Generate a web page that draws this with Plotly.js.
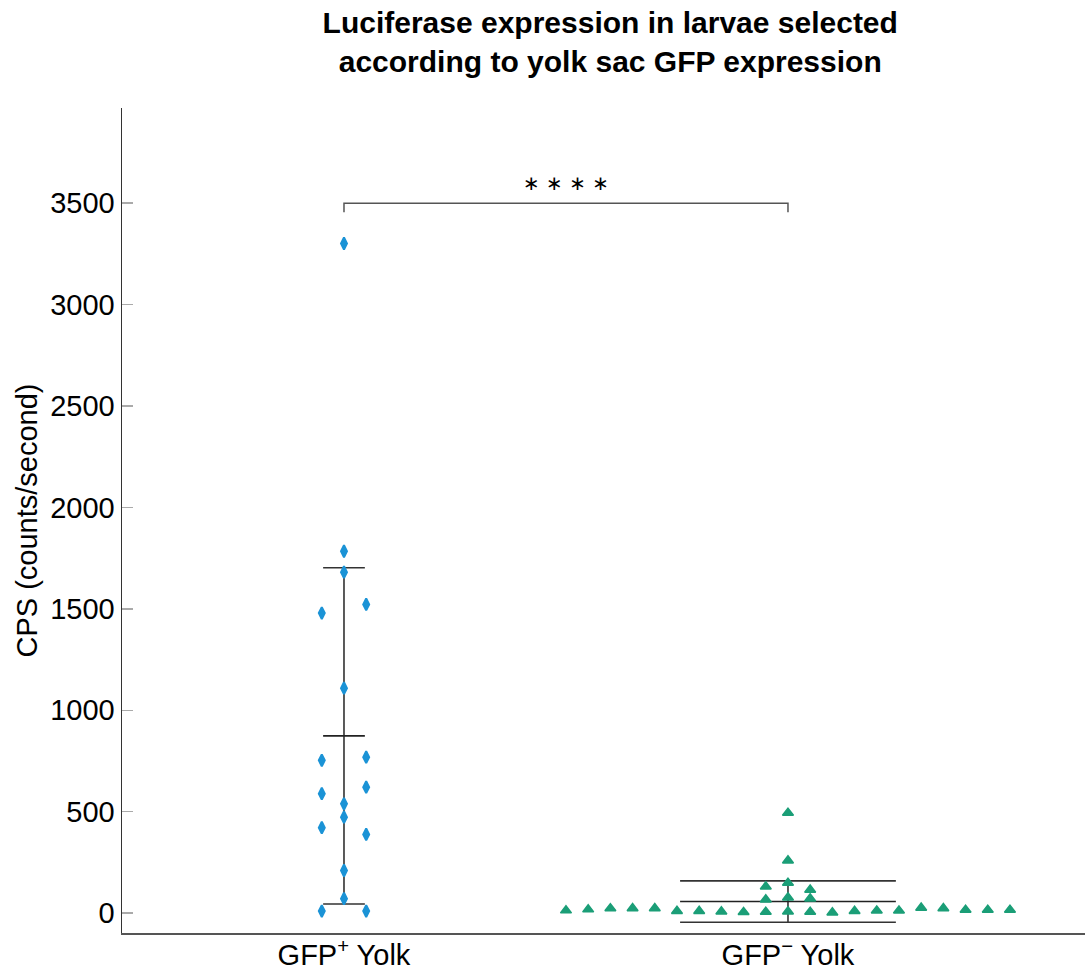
<!DOCTYPE html>
<html>
<head>
<meta charset="utf-8">
<script src="https://cdn.plot.ly/plotly-3.0.1.min.js"></script>
<style>
  html, body { margin: 0; padding: 0; background: #ffffff; }
  #chart { width: 1085px; height: 971px; }
</style>
</head>
<body>
<div id="chart"></div>
<script>
// Group labels on the x axis
const groupLabels = ['GFP<sup>+</sup> Yolk', 'GFP<sup>\u2212</sup> Yolk'];

// Luciferase readings (CPS) for each larva, in recording order
const gfpPosYolk = [3301, 1784, 1681, 1479, 1522, 1109, 753, 769, 589, 621, 539, 473, 421, 388, 210, 71, 10, 10];
const gfpNegYolk = [13, 18, 23, 24, 24, 10, 10, 8, 5, 6, 8, 6, 3, 10, 12, 12, 26, 24, 16, 16, 16,
                    67, 77, 72, 131, 149, 115, 259, 494];

// Significance marker between the groups
const significanceText = '\u2217 \u2217 \u2217 \u2217';

const FONT = 'Liberation Sans, Arial, Helvetica, sans-serif';
const BLUE = '#1b93d6';
const GREEN = '#1b9e77';

// Layout geometry
const W = 1085, H = 971;
const M = { l: 122, r: 0, t: 108, b: 38 };
const xRange = [0.5, 2.669];
const yRange = [-98, 3969];
const pxPerX = (W - M.l - M.r) / (xRange[1] - xRange[0]);

function mean(a) { return a.reduce((s, v) => s + v, 0) / a.length; }
function sd(a) {
  const m = mean(a);
  return Math.sqrt(a.reduce((s, v) => s + (v - m) * (v - m), 0) / (a.length - 1));
}

// Column scatter: values are grouped into bands of similar height; within a band
// points are spread side by side (odd counts centred, even counts leave the centre free).
function swarmOffsets(values, band, step) {
  const order = values.map((v, i) => i).sort((a, b) => values[a] - values[b] || a - b);
  const bins = [];
  let cur = [], start = 0;
  order.forEach(i => {
    if (cur.length && values[i] - start >= band) { bins.push(cur); cur = []; }
    if (!cur.length) start = values[i];
    cur.push(i);
  });
  if (cur.length) bins.push(cur);
  const off = new Array(values.length).fill(0);
  bins.forEach(b => {
    b.sort((a, c) => a - c);
    const n = b.length, slots = [];
    if (n % 2) { for (let k = -(n - 1) / 2; k <= (n - 1) / 2; k++) slots.push(k); }
    else { for (let k = -n / 2; k <= n / 2; k++) if (k !== 0) slots.push(k); }
    b.forEach((idx, j) => { off[idx] = slots[j] * step; });
  });
  return off;
}

const groups = [
  { pos: 1, values: gfpPosYolk, color: BLUE, symbol: 'diamond-tall', size: 8.5, lw: 2, capHalf: 0.047 },
  { pos: 2, values: gfpNegYolk, color: GREEN, symbol: 'triangle-up', size: 9.5, lw: 1.5, capHalf: 0.243 }
];

const traces = [];
groups.forEach(g => {
  const m = mean(g.values), s = sd(g.values);
  // mean ± SD whiskers
  traces.push({
    type: 'scatter', mode: 'markers', x: [g.pos], y: [m],
    marker: { size: 1, opacity: 0 },
    error_y: { type: 'data', array: [s], visible: true, color: '#333333', thickness: 1.6,
               width: g.capHalf * pxPerX },
    hoverinfo: 'skip', showlegend: false
  });
  // mean line
  traces.push({
    type: 'scatter', mode: 'lines', x: [g.pos - g.capHalf, g.pos + g.capHalf], y: [m, m],
    line: { color: '#222222', width: 1.6 }, hoverinfo: 'skip', showlegend: false
  });
});
groups.forEach(g => {
  const off = swarmOffsets(g.values, 45, 0.05);
  traces.push({
    type: 'scatter', mode: 'markers',
    x: g.values.map((v, i) => g.pos + off[i]), y: g.values,
    marker: { symbol: g.symbol, size: g.size, color: g.color, line: { color: g.color, width: g.lw } },
    showlegend: false
  });
});

const layout = {
  width: W, height: H, margin: M,
  paper_bgcolor: '#ffffff', plot_bgcolor: '#ffffff',
  font: { family: FONT, size: 29, color: '#000000' },
  title: {
    text: '<b>Luciferase expression in larvae selected<br>according to yolk sac GFP expression</b>',
    font: { family: FONT, size: 30, color: '#000000' },
    xref: 'paper', x: 0.507, xanchor: 'center',
    yref: 'container', y: 0.966, yanchor: 'top'
  },
  xaxis: {
    range: xRange, tickvals: [1, 2], ticktext: groupLabels,
    showline: true, linecolor: '#555555', linewidth: 1.5,
    ticks: '', showgrid: false, zeroline: false, fixedrange: true,
    ticklabelstandoff: -4,
    tickfont: { family: FONT, size: 29, color: '#000000' }
  },
  yaxis: {
    range: yRange, tick0: 0, dtick: 500,
    ticks: 'inside', ticklen: 11, tickwidth: 1.5, tickcolor: '#aaaaaa',
    showline: true, linecolor: '#333333', linewidth: 1.5,
    showgrid: false, zeroline: false, fixedrange: true,
    tickfont: { family: FONT, size: 29, color: '#000000' },
    title: { text: 'CPS (counts/second)', font: { family: FONT, size: 29, color: '#000000' }, standoff: 4 }
  },
  shapes: [{
    type: 'path', xref: 'x', yref: 'y',
    path: 'M 1,3455 L 1,3500 L 2,3500 L 2,3455',
    line: { color: '#555555', width: 1.5 }
  }],
  annotations: [{
    xref: 'x', yref: 'y', x: 1.5, y: 3500, yanchor: 'bottom', yshift: 6,
    text: significanceText, showarrow: false,
    font: { family: 'DejaVu Sans, sans-serif', size: 20, color: '#000000' }
  }]
};

Plotly.newPlot('chart', traces, layout, { displayModeBar: false, staticPlot: true });
</script>
</body>
</html>
